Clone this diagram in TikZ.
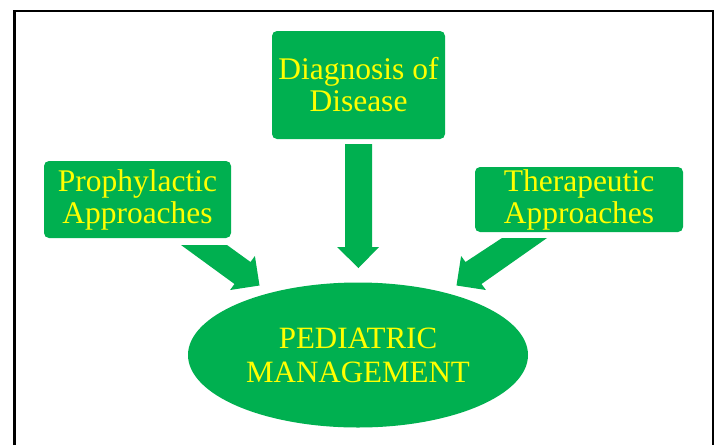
\documentclass[tikz,border=0pt]{standalone}
\usepackage{fontspec}
\setmainfont{Liberation Serif}
\usetikzlibrary{shapes.geometric}
\definecolor{pgreen}{HTML}{00B050}
\definecolor{pyellow}{HTML}{FFFF00}
\begin{document}
\begin{tikzpicture}[x=1pt,y=-1pt,
  boxnode/.style={fill=pgreen, rounded corners=5pt, inner sep=0pt, align=center,
    text=pyellow, font=\fontsize{31.5}{32}\selectfont},
  ellnode/.style={ellipse, fill=pgreen, inner sep=0pt, align=center, text=pyellow,
    font=\fontsize{31}{34}\selectfont, minimum width=340pt, minimum height=145pt},
  blockarrow/.style={fill=pgreen}]
\useasboundingbox (0,0) rectangle (720,445);
\fill[white] (0,0) rectangle (720,445);
\draw[line width=2.6pt] (14.5,445) -- (14.5,11) -- (713,11) -- (713,445);
% boxes
\node[boxnode, minimum width=173pt, minimum height=108pt] (diag) at (358.5,85) {Diagnosis of\\Disease};
\node[boxnode, minimum width=187pt, minimum height=77pt] (proph) at (137.5,199.5) {Prophylactic\\Approaches};
\node[boxnode, minimum width=208pt, minimum height=65pt] (thera) at (579,199.5) {Therapeutic\\Approaches};
\node[ellnode] (ped) at (358,355) {PEDIATRIC\\MANAGEMENT};
% block arrows
\fill[blockarrow] (345,144) -- (372,144) -- (372,247) -- (379,247) -- (358.5,268)
  -- (337,247) -- (345,247) -- cycle;
\fill[blockarrow] (181,245) -- (227,245) -- (250.5,262) -- (254.9,256) -- (259.5,285.5)
  -- (230.1,290) -- (234.5,284) -- cycle;
\fill[blockarrow] (547,238) -- (502,238) -- (465.5,262) -- (461.1,256) -- (456.5,285.5)
  -- (485.9,290) -- (481.5,284) -- cycle;
\end{tikzpicture}
\end{document}
